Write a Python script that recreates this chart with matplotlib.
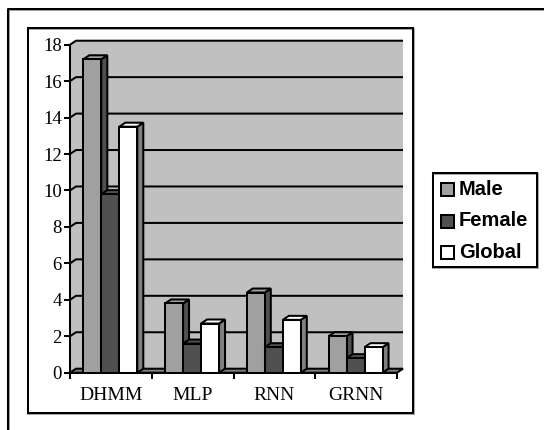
import matplotlib
matplotlib.use("Agg")
import matplotlib.pyplot as plt
from matplotlib.lines import Line2D
from matplotlib.patches import Polygon, Rectangle

categories = ["DHMM", "MLP", "RNN", "GRNN"]
male = [17.2, 3.8, 4.4, 2.0]
female = [9.8, 1.6, 1.4, 0.8]
global_ = [13.5, 2.7, 2.9, 1.4]
yticks = [0, 2, 4, 6, 8, 10, 12, 14, 16, 18]

W, H = 544, 430
LW = 1.45

fig = plt.figure(figsize=(W / 100, H / 100), dpi=100)

# plot area in pixels
left, right, top, bottom = 70, 397, 44.7, 372.7
ax = fig.add_axes([left / W, 1 - bottom / H, (right - left) / W, (bottom - top) / H])
ax.set_xlim(0, 4)
ax.set_ylim(0, 18)
ax.patch.set_visible(False)

# size of the fake 3d offset, in data units
dx = 6 / ((right - left) / 4)
dy = 4 / ((bottom - top) / 18)


def poly(pts, color, z, lw=LW):
    ax.add_patch(Polygon(pts, closed=True, fc=color, ec="black", lw=lw, zorder=z,
                         clip_on=False, joinstyle="miter"))


# walls and floor
ax.add_patch(Polygon([(0, 0), (dx, dy), (4 + dx, dy), (4 + dx, 18 + dy), (dx, 18 + dy), (0, 18)],
                     closed=True, fc="#c0c0c0", ec="none", zorder=1, clip_on=False))
poly([(0, 0), (dx, dy), (4 + dx, dy), (4, 0)], "#808080", 1.5)

for v in yticks[1:]:
    ax.plot([0, dx, 4 + dx], [v, v + dy, v + dy], color="black", lw=LW, zorder=2,
            clip_on=False, solid_capstyle="butt")

# bars: front face with ax.bar, top and side as polygons
bar_w = 18 / ((right - left) / 4)
start = 13.3 / ((right - left) / 4)
series = [(male, "#a0a0a0", "#505050"),
          (female, "#505050", "#303030"),
          (global_, "#ffffff", "#808080")]
for c in range(len(categories)):
    for s, (vals, face, side) in enumerate(series):
        x0 = c + start + s * bar_w
        v = vals[c]
        z = 3 + s
        poly([(x0 + bar_w, 0), (x0 + bar_w + dx, dy), (x0 + bar_w + dx, v + dy),
              (x0 + bar_w, v)], side, z)
        poly([(x0, v), (x0 + dx, v + dy), (x0 + bar_w + dx, v + dy), (x0 + bar_w, v)],
             face, z)
        ax.bar(x0, v, bar_w, align="edge", color=face, edgecolor="black", lw=LW,
               zorder=z)

ax.spines["top"].set_visible(False)
ax.spines["right"].set_visible(False)
for sp in ("left", "bottom"):
    ax.spines[sp].set_linewidth(LW)
    ax.spines[sp].set_zorder(10)

ax.set_yticks(yticks)
ax.set_xticks(range(5))
ax.set_xticklabels([])
ax.set_xticks([i + 0.5 for i in range(4)], minor=True)
ax.set_xticklabels(categories, minor=True, family="Liberation Serif", fontsize=14)
ax.tick_params(axis="x", which="minor", length=0, pad=10)
ax.tick_params(axis="x", which="major", length=4, width=LW)
ax.tick_params(axis="y", length=4.5, width=LW, pad=1.5, labelsize=13.5)
for t in ax.get_yticklabels():
    t.set_family("Liberation Serif")


# frames and legend, placed in figure pixels
def box(x0, y0, x1, y1, fc="none", lw=LW, shadow=True):
    if shadow:
        fig.add_artist(Rectangle((x0 / W, 1 - (y1 + 1) / H), (x1 - x0 + 1) / W, (y1 - y0) / H,
                                 transform=fig.transFigure, fc="none", ec="#a8a8a8", lw=lw))
    fig.add_artist(Rectangle((x0 / W, 1 - y1 / H), (x1 - x0) / W, (y1 - y0) / H,
                             transform=fig.transFigure, fc=fc, ec="black", lw=lw))


# outer frame only shows on the top and left, the crop cuts off the rest
for off, col in ((1, "#a0a0a0"), (0, "black")):
    fig.add_artist(Line2D([(7.5 + off) / W, (7.5 + off) / W, 1],
                          [0, 1 - (8.5 + off) / H, 1 - (8.5 + off) / H],
                          transform=fig.transFigure, color=col, lw=LW))

box(27.5, 27.5, 412.8, 412.8)
box(433, 173, 537, 267)

names = ["Male", "Female", "Global"]
for y, name, (vals, face, side) in zip([189, 221, 252], names, series):
    box(440.5, y - 6.5, 453.5, y + 6.5, fc=face, shadow=False)
    fig.text(459 / W, 1 - y / H, name, family="Liberation Sans", weight="bold",
             fontsize=14.5, va="center", ha="left")

fig.savefig("out.png", dpi=100)
